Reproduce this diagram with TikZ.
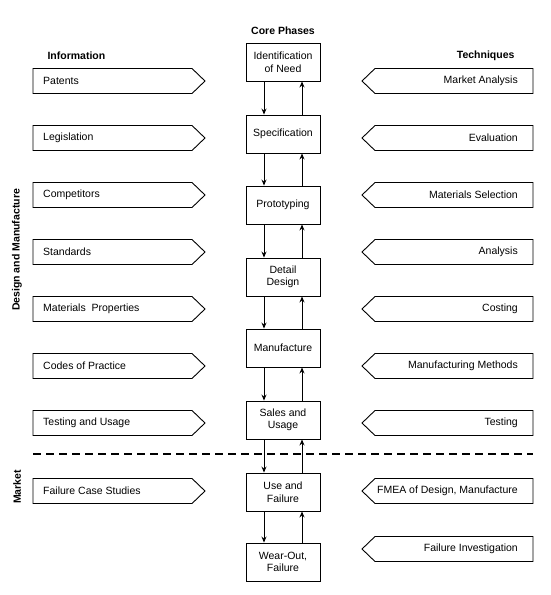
\documentclass[tikz,border=0pt]{standalone}
\usepackage{fontspec}
\setmainfont{Liberation Sans}
\usetikzlibrary{arrows.meta}
\begin{document}
\begin{tikzpicture}[x=1pt,y=-1pt,
  every node/.style={font=\fontsize{10.5}{12.5}\selectfont},
  phase/.style={draw,line width=0.9pt,minimum width=74pt,minimum height=38pt,inner sep=1pt,align=center},
  head/.style={font=\fontsize{10.5}{12.5}\selectfont\bfseries},
  outline/.style={line width=0.9pt,line join=miter},
  flow/.style={line width=0.9pt,-{Stealth[length=6pt,width=5pt]}},
  infotxt/.style={anchor=west,inner sep=0pt},
  techtxt/.style={anchor=east,inner sep=0pt}]
\useasboundingbox (0,0) rectangle (550,595);
% headers
\node[head] (hcore) at (283,31) {Core Phases};
\node[head,anchor=west] (hinfo) at (44,56) {Information};
\node[head,anchor=east] (htech) at (518,56) {Techniques};
\node[head,rotate=90] (sdm) at (17,250) {Design and Manufacture};
\node[head,rotate=90] (smk) at (17,487) {Market};
% core phases
\node[phase] (p1) at (283,62) {Identification\\of Need};
\node[phase] (p2) at (283,134) {Specification};
\node[phase] (p3) at (283,205) {Prototyping};
\node[phase] (p4) at (283,277) {Detail\\Design};
\node[phase] (p5) at (283,348) {Manufacture};
\node[phase] (p6) at (283,420) {Sales and\\Usage};
\node[phase] (p7) at (283,492) {Use and\\Failure};
\node[phase] (p8) at (283,562) {Wear-Out,\\Failure};
\foreach \a/\b in {p1/p2,p2/p3,p3/p4,p4/p5,p5/p6,p6/p7,p7/p8}{
  \draw[flow] ([xshift=-19pt]\a.south) -- ([xshift=-19pt]\b.north);
  \draw[flow] ([xshift=19pt]\b.north) -- ([xshift=19pt]\a.south);
}
% information arrows (left)
\foreach \y/\t/\n in {81/Patents/i1,138/Legislation/i2,195/Competitors/i3,252/Standards/i4,309/{Materials\ \ Properties}/i5,366/Codes of Practice/i6,423/Testing and Usage/i7,491/Failure Case Studies/i8}{
  \draw[outline] (33,\y-12.5) -- (192,\y-12.5) -- (205,\y) -- (192,\y+12.5) -- (33,\y+12.5) -- cycle;
  \node[infotxt] (\n) at (43,\y) {\t};
}
% technique arrows (right)
\foreach \y/\t/\n in {81/Market Analysis/t1,138/Evaluation/t2,195/Materials Selection/t3,252/Analysis/t4,309/Costing/t5,366/Manufacturing Methods/t6,423/Testing/t7,491/{FMEA of Design, Manufacture}/t8,549/Failure Investigation/t9}{
  \draw[outline] (533,\y-12.5) -- (375,\y-12.5) -- (362,\y) -- (375,\y+12.5) -- (533,\y+12.5) -- cycle;
  \node[techtxt] (\n) at (518,\y) {\t};
}
% dashed divider
\coordinate (dl) at (33,454);
\coordinate (dr) at (533,454);
\draw[line width=1.3pt,dash pattern=on 8pt off 5pt] (dl) -- (dr);
\end{tikzpicture}
\end{document}
